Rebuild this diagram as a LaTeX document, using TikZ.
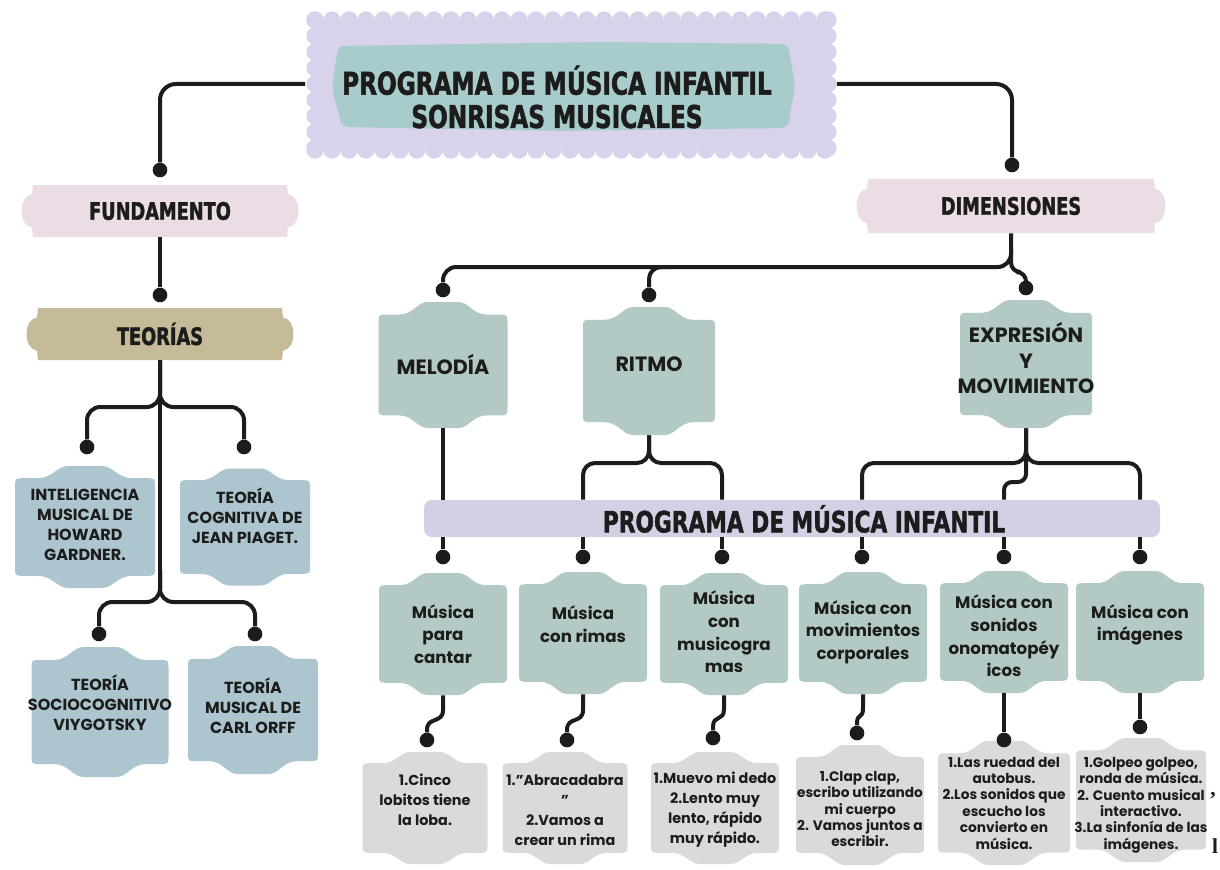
\documentclass[tikz,border=0pt]{standalone}
\usepackage{fontspec}
\setmainfont{Poppins}
\newfontfamily\headfont[FakeStretch=0.74, BoldFeatures={FakeBold=1.6}]{DejaVu Sans}
\newfontfamily\strayfont{Liberation Serif}
\definecolor{ink}{RGB}{28,28,28}
\definecolor{lav}{RGB}{216,211,234}
\definecolor{tteal}{RGB}{168,203,203}
\definecolor{pinkb}{RGB}{235,220,230}
\definecolor{tanb}{RGB}{197,187,153}
\definecolor{bluet}{RGB}{172,197,206}
\definecolor{tealb}{RGB}{178,201,198}
\definecolor{barc}{RGB}{211,207,228}
\definecolor{greyb}{RGB}{218,218,218}

% wavy box: name, cx, cy, w, h, colour, text y, text style, text
\newcommand\blob[9]{%
 \pgfmathsetmacro\Za{#2-#4/2}\pgfmathsetmacro\Zb{#2+#4/2}%
 \pgfmathsetmacro\Zt{#3-#5/2}\pgfmathsetmacro\Zu{#3+#5/2}%
 \pgfmathsetmacro\Zd{#5*0.1}\pgfmathsetmacro\Zc{#2}%
 \pgfmathsetmacro\Zq{#4*0.34}\pgfmathsetmacro\Zp{#4*0.12}%
 \pgfmathsetmacro\Zr{9}\pgfmathsetmacro\Zk{#4*0.11}\pgfmathsetmacro\Zj{#4*0.08}%
 \fill[#6] ({\Za},{\Zt+\Zd+\Zr})
   .. controls ({\Za},{\Zt+\Zd}) .. ({\Za+\Zr},{\Zt+\Zd})
   -- ({\Zc-\Zq},{\Zt+\Zd})
   .. controls ({\Zc-\Zq+\Zk},{\Zt+\Zd}) and ({\Zc-\Zp-\Zj},{\Zt}) .. ({\Zc-\Zp},{\Zt})
   -- ({\Zc+\Zp},{\Zt})
   .. controls ({\Zc+\Zp+\Zj},{\Zt}) and ({\Zc+\Zq-\Zk},{\Zt+\Zd}) .. ({\Zc+\Zq},{\Zt+\Zd})
   -- ({\Zb-\Zr},{\Zt+\Zd})
   .. controls ({\Zb},{\Zt+\Zd}) .. ({\Zb},{\Zt+\Zd+\Zr})
   -- ({\Zb},{\Zu-\Zd-\Zr})
   .. controls ({\Zb},{\Zu-\Zd}) .. ({\Zb-\Zr},{\Zu-\Zd})
   -- ({\Zc+\Zq},{\Zu-\Zd})
   .. controls ({\Zc+\Zq-\Zk},{\Zu-\Zd}) and ({\Zc+\Zp+\Zj},{\Zu}) .. ({\Zc+\Zp},{\Zu})
   -- ({\Zc-\Zp},{\Zu})
   .. controls ({\Zc-\Zp-\Zj},{\Zu}) and ({\Zc-\Zq+\Zk},{\Zu-\Zd}) .. ({\Zc-\Zq},{\Zu-\Zd})
   -- ({\Za+\Zr},{\Zu-\Zd})
   .. controls ({\Za},{\Zu-\Zd}) .. ({\Za},{\Zu-\Zd-\Zr}) -- cycle;
 \node[inner sep=0pt, minimum width={#4*0.75pt}, minimum height={#5*0.75pt}] (#1) at (#2,#3) {};
 \node[#8] (#1t) at (#2,#7) {#9};
}

% ribbon label: name, cx, cy, w, h, colour, text
\newcommand\ribbon[7]{%
 \pgfmathsetmacro\Za{#2-#4/2}\pgfmathsetmacro\Zb{#2+#4/2}%
 \pgfmathsetmacro\Zt{#3-#5/2}\pgfmathsetmacro\Zu{#3+#5/2}%
 \pgfmathsetmacro\Ze{13}\pgfmathsetmacro\Zf{#5*0.18}\pgfmathsetmacro\Zg{#5*0.22}%
 \fill[#6] ({\Za+\Ze},{\Zt}) -- ({\Zb-\Ze},{\Zt}) -- ({\Zb-\Ze+1},{\Zt+\Zf})
   .. controls ({\Zb+2},{\Zt+\Zg}) and ({\Zb+2},{\Zu-\Zg}) .. ({\Zb-\Ze+1},{\Zu-\Zf})
   -- ({\Zb-\Ze},{\Zu}) -- ({\Za+\Ze},{\Zu}) -- ({\Za+\Ze-1},{\Zu-\Zf})
   .. controls ({\Za-2},{\Zu-\Zg}) and ({\Za-2},{\Zt+\Zg}) .. ({\Za+\Ze-1},{\Zt+\Zf}) -- cycle;
 \node[head, inner sep=0pt, minimum width={#4*0.75pt}, minimum height={#5*0.75pt}] (#1) at (#2,#3) {#7};
}

\begin{document}
\begin{tikzpicture}[x=0.75pt,y=-0.75pt,
 conn/.style={line width=3pt, draw=ink},
 jdot/.style={circle, fill=ink, inner sep=0pt, minimum size=11pt},
 head/.style={font=\headfont\bfseries\fontsize{18}{20}\selectfont, text=ink},
 thr/.style={font=\bfseries\fontsize{12}{15}\selectfont, text=ink, align=center},
 dimt/.style={font=\bfseries\fontsize{15.5}{19}\selectfont, text=ink, align=center},
 rowa/.style={font=\bfseries\fontsize{12.5}{17}\selectfont, text=ink, align=center},
 rowb/.style={font=\bfseries\fontsize{10.8}{15}\selectfont, text=ink, align=center},
 rowc/.style={font=\bfseries\fontsize{10.3}{12.3}\selectfont, text=ink, align=center},
]
\useasboundingbox (0,0) rectangle (1220,870);
\fill[white] (0,0) rectangle (1220,870);

% ---------- title ----------
\fill[lav] (315,20) rectangle (828,150);
\foreach \x in {315,332,...,828} {\fill[lav] (\x,20) circle (6.5pt); \fill[lav] (\x,150) circle (6.5pt);}
\foreach \y in {20,36,...,150} {\fill[lav] (315,\y) circle (6.5pt); \fill[lav] (828,\y) circle (6.5pt);}
\fill[tteal, rounded corners=5pt] (338,46) -- (600,42) -- (788,44) -- (795,85) -- (788,128) -- (560,131) -- (342,127) -- (332,88) -- cycle;
\node[inner sep=0pt, minimum width={531*0.75pt}, minimum height={148*0.75pt}] (title) at (571,84) {};
\node[font=\headfont\bfseries\fontsize{23.5}{25}\selectfont, align=center, text=ink] (ttl) at (557,97) {PROGRAMA DE MÚSICA INFANTIL\\SONRISAS MUSICALES};

% ---------- ribbons ----------
\ribbon{fund}{160}{211}{280}{52}{pinkb}{FUNDAMENTO}
\ribbon{teo}{160}{334}{270}{52}{tanb}{TEORÍAS}
\ribbon{dim}{1011}{206}{312}{54}{pinkb}{DIMENSIONES}

% ---------- theory boxes ----------
\blob{th1}{85}{527}{140}{122}{bluet}{525}{thr}{INTELIGENCIA\\MUSICAL DE\\HOWARD\\GARDNER.}
\blob{th2}{245}{527}{130}{117}{bluet}{516}{thr}{TEORÍA\\COGNITIVA DE\\JEAN PIAGET.}
\blob{th3}{100}{712}{137}{130}{bluet}{703}{thr}{TEORÍA\\SOCIOCOGNITIVO\\VIYGOTSKY}
\blob{th4}{253}{710}{130}{128}{bluet}{706}{thr}{TEORÍA\\MUSICAL DE\\CARL ORFF}

% ---------- dimension boxes ----------
\blob{mel}{443}{365}{129}{126}{tealb}{364}{dimt}{MELODÍA}
\blob{rit}{649}{371}{132}{128}{tealb}{364}{dimt}{RITMO}
\blob{exp}{1026}{364}{132}{128}{tealb}{358}{dimt}{EXPRESIÓN\\Y\\MOVIMIENTO}

% ---------- bar ----------
\node[fill=barc, rounded corners=6pt, inner sep=0pt, minimum width={736*0.75pt}, minimum height={37*0.75pt}] (bar) at (792,518.5) {};
\node[font=\headfont\bfseries\fontsize{22}{24}\selectfont, text=ink] (bart) at (804,519) {PROGRAMA DE MÚSICA INFANTIL};

% ---------- row 1 ----------
\blob{m1}{443}{634}{128}{122}{tealb}{634}{rowa}{Música\\para\\cantar}
\blob{m2}{583}{633}{128}{122}{tealb}{624}{rowa}{Música\\con rimas}
\blob{m3}{724}{634}{128}{122}{tealb}{632}{rowa}{Música\\con\\musicogra\\mas}
\blob{m4}{863}{633}{128}{122}{tealb}{632}{rowa}{Música con\\movimientos\\corporales}
\blob{m5}{1004}{632}{128}{122}{tealb}{636}{rowa}{Música con\\sonidos\\onomatopéy\\icos}
\blob{m6}{1140}{632}{128}{122}{tealb}{625}{rowa}{Música con\\imágenes}

% ---------- row 2 ----------
\blob{e1}{425}{808}{125}{112}{greyb}{800}{rowb}{1.Cinco\\lobitos tiene\\la loba.}
\blob{e2}{565}{808}{125}{112}{greyb}{810}{rowb}{1."Abracadabra\\”\\2.Vamos a\\crear un rima}
\blob{e3}{715}{808}{128}{112}{greyb}{810}{rowb}{1.Muevo mi dedo\\2.Lento muy\\lento, rápido\\muy rápido.}
\blob{e4}{860}{805}{128}{120}{greyb}{809}{rowc}{1.Clap clap,\\escribo utilizando\\mi cuerpo\\2. Vamos juntos a\\escribir.}
\blob{e5}{1004}{803}{132}{124}{greyb}{803}{rowc}{1.Las ruedad del\\autobus.\\2.Los sonidos que\\escucho los\\convierto en\\música.}
\blob{e6}{1141}{800}{130}{124}{greyb}{805}{rowc}{1.Golpeo golpeo,\\ronda de música.\\2. Cuento musical\\interactivo.\\3.La sinfonía de las\\imágenes.}

% ---------- dots ----------
\node[jdot] (dFund) at (160,170) {};
\node[jdot] (dDim) at (1012,165) {};
\node[jdot] (dTeo) at (160,295) {};
\node[jdot] (dT1) at (87,447) {};
\node[jdot] (dT2) at (244,447) {};
\node[jdot] (dT3) at (99,634) {};
\node[jdot] (dT4) at (255,634) {};
\node[jdot] (dMel) at (443,290) {};
\node[jdot] (dRit) at (649,295) {};
\node[jdot] (dExp) at (1026,288) {};
\node[jdot] (d1) at (443,557) {};
\node[jdot] (d2) at (583,557) {};
\node[jdot] (d3) at (722,557) {};
\node[jdot] (d4) at (862,557) {};
\node[jdot] (d5) at (1004,557) {};
\node[jdot] (d6) at (1140,557) {};
\node[jdot] (f1) at (427,740) {};
\node[jdot] (f2) at (567,740) {};
\node[jdot] (f3) at (713,738) {};
\node[jdot] (f4) at (857,733) {};
\node[jdot] (f5) at (1004,740) {};
\node[jdot] (f6) at (1140,727) {};

% ---------- connectors ----------
\draw[conn, rounded corners=12pt] (title.west) -| (dFund);
\draw[conn, rounded corners=12pt] (title.east) -| (dDim);
\draw[conn] (fund.south) -- (dTeo);
\draw[conn, rounded corners=10pt] (teo.south) |- (87,407) -- (dT1);
\draw[conn, rounded corners=10pt] (teo.south) |- (244,407) -- (dT2);
\draw[conn] (teo.south) -- (160,590);
\draw[conn, rounded corners=10pt] (160,570) |- (99,602) -- (dT3);
\draw[conn, rounded corners=10pt] (160,570) |- (255,602) -- (dT4);

\draw[conn, rounded corners=10pt] (dim.south) |- (443,267) -- (dMel);
\draw[conn, rounded corners=9pt] (670,267) -| (dRit);
\draw[conn, rounded corners=7pt] (1011,250) |- (1026,272) -- (dExp);

\draw[conn] (mel.south) -- (mel.south |- bar.north);
\draw[conn, rounded corners=9pt] (rit.south) |- (583,463) -- (d2 |- bar.north);
\draw[conn, rounded corners=9pt] (rit.south) |- (722,463) -- (d3 |- bar.north);
\draw[conn, rounded corners=9pt] (exp.south) |- (862,463) -- (d4 |- bar.north);
\draw[conn, rounded corners=9pt] (exp.south) |- (1140,463) -- (d6 |- bar.north);
\draw[conn, rounded corners=6pt] (1026,455) |- (1004,482) -- (d5 |- bar.north);

\foreach \d in {d1,d2,d3,d4,d5,d6} {\draw[conn] (\d |- bar.south) -- (\d);}

\draw[conn] (m1.south) -- (443,710) .. controls (443,724) and (427,716) .. (427,730) -- (f1);
\draw[conn] (m2.south) -- (583,710) .. controls (583,724) and (567,716) .. (567,730) -- (f2);
\draw[conn] (m3.south) -- (724,709) .. controls (724,722) and (713,714) .. (713,727) -- (f3);
\draw[conn] (m4.south) -- (863,708) .. controls (863,720) and (857,712) .. (857,724) -- (f4);
\draw[conn] (m5.south) -- (f5);
\draw[conn] (m6.south) -- (f6);

% ---------- stray marks ----------
\node[font=\strayfont\bfseries\fontsize{16}{16}\selectfont, text=ink] (s1) at (1213,796) {,};
\node[font=\strayfont\bfseries\fontsize{16}{16}\selectfont, text=ink] (s2) at (1215,846) {l};
\end{tikzpicture}
\end{document}
